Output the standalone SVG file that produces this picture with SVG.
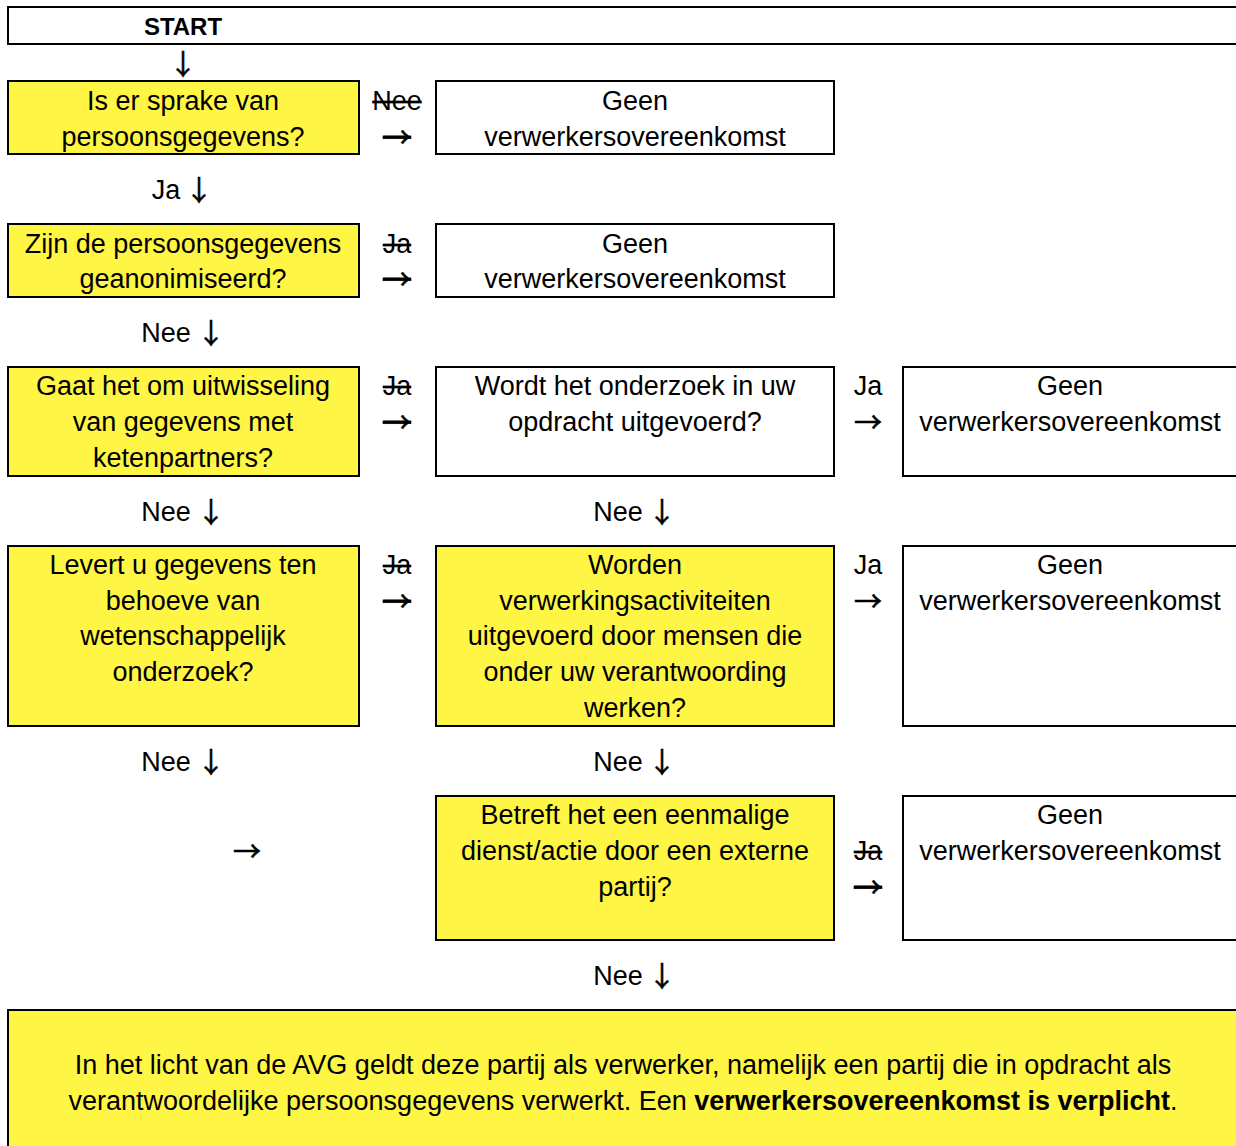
<svg xmlns="http://www.w3.org/2000/svg" width="1236" height="1146" viewBox="0 0 1236 1146">
<style>
  .y { fill: #FFF545; stroke: #000; stroke-width: 2; }
  .w { fill: #FFFFFF; stroke: #000; stroke-width: 2; }
  text { font-family: "Liberation Sans", Arial, sans-serif; font-size: 27px; fill: #000; text-anchor: middle; }
  .b { font-weight: bold; }
  .s { text-decoration: line-through; }
  .ar { font-family: "Noto Sans CJK SC", "DejaVu Sans", sans-serif; font-size: 28px; stroke: #000; stroke-width: 0.6; }
</style>
<rect width="1236" height="1146" fill="#FFFFFF"/>

<g id="start">
  <rect class="w" x="8" y="7" width="1240" height="37"/>
  <text class="b" x="183" y="35" style="font-size:24px">START</text>
</g>

<g id="q1">
  <rect class="y" x="8" y="81" width="351" height="73"/>
  <text x="183" y="110">Is er sprake van</text>
  <text x="183" y="146">persoonsgegevens?</text>
</g>
<g id="geen1">
  <rect class="w" x="436" y="81" width="398" height="73"/>
  <text x="635" y="110">Geen</text>
  <text x="635" y="146">verwerkersovereenkomst</text>
</g>

<g id="q2">
  <rect class="y" x="8" y="224" width="351" height="73"/>
  <text x="183" y="253">Zijn de persoonsgegevens</text>
  <text x="183" y="288">geanonimiseerd?</text>
</g>
<g id="geen2">
  <rect class="w" x="436" y="224" width="398" height="73"/>
  <text x="635" y="253">Geen</text>
  <text x="635" y="288">verwerkersovereenkomst</text>
</g>

<g id="q3">
  <rect class="y" x="8" y="367" width="351" height="109"/>
  <text x="183" y="395">Gaat het om uitwisseling</text>
  <text x="183" y="431">van gegevens met</text>
  <text x="183" y="467">ketenpartners?</text>
</g>
<g id="q3b">
  <rect class="w" x="436" y="367" width="398" height="109"/>
  <text x="635" y="395">Wordt het onderzoek in uw</text>
  <text x="635" y="431">opdracht uitgevoerd?</text>
</g>
<g id="geen3">
  <rect class="w" x="903" y="367" width="345" height="109"/>
  <text x="1070" y="395">Geen</text>
  <text x="1070" y="431">verwerkersovereenkomst</text>
</g>

<g id="q4">
  <rect class="y" x="8" y="546" width="351" height="180"/>
  <text x="183" y="574">Levert u gegevens ten</text>
  <text x="183" y="610">behoeve van</text>
  <text x="183" y="645">wetenschappelijk</text>
  <text x="183" y="681">onderzoek?</text>
</g>
<g id="q4b">
  <rect class="y" x="436" y="546" width="398" height="180"/>
  <text x="635" y="574">Worden</text>
  <text x="635" y="610">verwerkingsactiviteiten</text>
  <text x="635" y="645">uitgevoerd door mensen die</text>
  <text x="635" y="681">onder uw verantwoording</text>
  <text x="635" y="717">werken?</text>
</g>
<g id="geen4">
  <rect class="w" x="903" y="546" width="345" height="180"/>
  <text x="1070" y="574">Geen</text>
  <text x="1070" y="610">verwerkersovereenkomst</text>
</g>

<g id="q5">
  <rect class="y" x="436" y="796" width="398" height="144"/>
  <text x="635" y="824">Betreft het een eenmalige</text>
  <text x="635" y="860">dienst/actie door een externe</text>
  <text x="635" y="896">partij?</text>
</g>
<g id="geen5">
  <rect class="w" x="903" y="796" width="345" height="144"/>
  <text x="1070" y="824">Geen</text>
  <text x="1070" y="860">verwerkersovereenkomst</text>
</g>

<g id="result">
  <rect class="y" x="8" y="1010" width="1240" height="150"/>
  <text x="623" y="1074">In het licht van de AVG geldt deze partij als verwerker, namelijk een partij die in opdracht als</text>
  <text x="623" y="1110">verantwoordelijke persoonsgegevens verwerkt. Een <tspan class="b">verwerkersovereenkomst is verplicht</tspan>.</text>
</g>

<g id="connectors">
  <text class="ar" x="183" y="75">↓</text>

  <text class="s" x="397" y="110">Nee</text>
  <text class="ar s" x="397" y="148">→</text>
  <text x="166" y="199">Ja</text>
  <text class="ar" x="199" y="201">↓</text>

  <text class="s" x="397" y="253">Ja</text>
  <text class="ar s" x="397" y="290">→</text>
  <text x="166" y="342">Nee</text>
  <text class="ar" x="211" y="344">↓</text>

  <text class="s" x="397" y="395">Ja</text>
  <text class="ar s" x="397" y="433">→</text>
  <text x="868" y="395">Ja</text>
  <text class="ar" x="868" y="433">→</text>
  <text x="618" y="521">Nee</text>
  <text class="ar" x="662" y="523">↓</text>
  <text x="166" y="521">Nee</text>
  <text class="ar" x="211" y="523">↓</text>

  <text class="s" x="397" y="574">Ja</text>
  <text class="ar s" x="397" y="612">→</text>
  <text x="868" y="574">Ja</text>
  <text class="ar" x="868" y="612">→</text>
  <text x="166" y="771">Nee</text>
  <text class="ar" x="211" y="773">↓</text>
  <text x="618" y="771">Nee</text>
  <text class="ar" x="662" y="773">↓</text>

  <text class="ar" x="247" y="862">→</text>
  <text class="s" x="868" y="860">Ja</text>
  <text class="ar s" x="868" y="898">→</text>
  <text x="618" y="985">Nee</text>
  <text class="ar" x="662" y="987">↓</text>
</g>
</svg>
